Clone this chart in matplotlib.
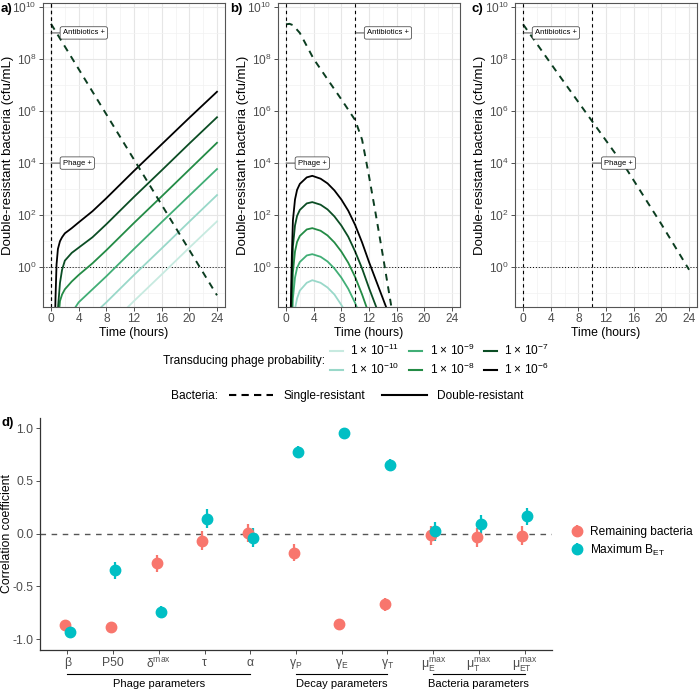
import numpy as np
import matplotlib
matplotlib.use('Agg')
import matplotlib.pyplot as plt
import matplotlib.transforms as mtransforms
from matplotlib.lines import Line2D
from matplotlib.ticker import NullFormatter

plt.rcParams['font.family'] = ['Liberation Sans', 'DejaVu Sans']
plt.rcParams['mathtext.fontset'] = 'custom'
plt.rcParams['mathtext.rm'] = 'Liberation Sans'
plt.rcParams['mathtext.it'] = 'Liberation Sans:italic'
plt.rcParams['mathtext.bf'] = 'Liberation Sans:bold'
plt.rcParams['axes.unicode_minus'] = False

# ---- data (log10 cfu/mL) ----
prob_labels = ['1 × 10$^{-11}$', '1 × 10$^{-10}$', '1 × 10$^{-9}$',
               '1 × 10$^{-8}$', '1 × 10$^{-7}$', '1 × 10$^{-6}$']
prob_colors = ['#c7eae0', '#99d8c9', '#41ae76', '#238b45', '#0b4d24', '#000000']

# panel a: phage + antibiotics at t=0
hours_a = [0.5, 0.65, 0.8, 1.0, 1.3, 1.6, 2, 3, 4, 6, 8, 12, 16, 20, 24]
a_p11 = [-9, -8, -7, -6, -5.5, -5.2, -4.6, -3.9, -3.4, -2.85, -2.35, -1.3, -0.28, 0.75, 1.76]
a_p10 = [-8, -7, -6, -5, -4.5, -4.2, -3.6, -2.9, -2.4, -1.85, -1.35, -0.3, 0.72, 1.75, 2.77]
a_p9 = [-7, -6, -5, -4, -3.2, -2.9, -2.55, -1.75, -1.35, -0.85, -0.35, 0.7, 1.73, 2.75, 3.77]
a_p8 = [-6, -5, -4, -2.2, -1.3, -1.05, -0.85, -0.55, -0.3, 0.15, 0.65, 1.7, 2.72, 3.75, 4.78]
a_p7 = [-5, -4, -3, -1.6, -0.6, -0.1, 0.25, 0.55, 0.75, 1.15, 1.65, 2.7, 3.72, 4.75, 5.76]
a_p6 = [-3, -1.2, 0.1, 0.7, 1.0, 1.15, 1.3, 1.5, 1.72, 2.15, 2.65, 3.7, 4.72, 5.74, 6.74]
hours_a_single = [0, 24]
a_single = [9.35, -1.08]

# panel b: phage at t=0, antibiotics at t=10
hours_b = [0.5, 0.7, 0.85, 1.0, 1.3, 1.6, 2, 3, 3.8, 5, 6, 7, 8, 9, 10, 11, 12, 13, 14, 15]
b_p11 = [-8, -6.5, -4.5, -3.2, -2.6, -2.2, -1.9, -1.6, -1.55, -1.6, -1.8, -2.05, -2.45, -2.9, -3.4, -4.05, -4.8, -5.5, -6.2, -6.9]
b_p10 = [-7, -5.5, -3.5, -2.2, -1.6, -1.2, -0.9, -0.6, -0.5, -0.6, -0.78, -1.05, -1.45, -1.9, -2.4, -3.05, -3.8, -4.5, -5.2, -5.9]
b_p9 = [-6, -4.5, -2.5, -1.2, -0.4, -0.03, 0.2, 0.45, 0.5, 0.4, 0.22, -0.05, -0.4, -0.83, -1.38, -2.05, -2.8, -3.5, -4.2, -4.9]
b_p8 = [-5, -3.5, -1.5, -0.2, 0.6, 0.97, 1.2, 1.45, 1.5, 1.4, 1.22, 0.95, 0.6, 0.17, -0.38, -1.05, -1.8, -2.5, -3.2, -3.9]
b_p7 = [-4, -2.5, -0.5, 0.8, 1.6, 1.97, 2.2, 2.45, 2.5, 2.4, 2.22, 1.95, 1.6, 1.17, 0.6, -0.05, -0.8, -1.5, -2.2, -2.9]
b_p6 = [-3, -1.5, 0.5, 1.8, 2.6, 2.97, 3.2, 3.45, 3.51, 3.4, 3.22, 2.95, 2.6, 2.17, 1.62, 0.95, 0.2, -0.5, -1.2, -1.9]
hours_b_single = [0, 0.5, 1, 2, 3, 4, 6, 8, 10, 11, 12, 13, 14, 15, 15.6]
b_single = [9.33, 9.35, 9.3, 9.0, 8.5, 8.0, 7.22, 6.45, 5.65, 4.9, 3.5, 2.0, 0.45, -1.15, -2.1]

# panel c: antibiotics at t=0, phage at t=10
hours_c_single = [0, 5, 10, 15, 20, 24]
c_single = [9.33, 7.45, 5.6, 3.75, 1.65, -0.1]

# panel d: correlation coefficients
param_labels = ['β', 'P50', r'$\mathrm{δ}^{\mathrm{max}}$', 'τ', 'α',
                r'$\mathrm{γ}_{\mathrm{P}}$', r'$\mathrm{γ}_{\mathrm{E}}$', r'$\mathrm{γ}_{\mathrm{T}}$',
                r'$\mathrm{μ}^{\mathrm{max}}_{\mathrm{E}}$', r'$\mathrm{μ}^{\mathrm{max}}_{\mathrm{T}}$',
                r'$\mathrm{μ}^{\mathrm{max}}_{\mathrm{ET}}$']
remaining = [-0.87, -0.885, -0.28, -0.07, 0.005, -0.18, -0.855, -0.67, -0.015, -0.035, -0.02]
remaining_err = [0.02, 0.02, 0.08, 0.09, 0.09, 0.08, 0.02, 0.06, 0.09, 0.09, 0.09]
max_bet = [-0.93, -0.35, -0.74, 0.14, -0.04, 0.775, 0.95, 0.65, 0.02, 0.09, 0.165]
max_bet_err = [0.02, 0.08, 0.05, 0.09, 0.09, 0.05, 0.02, 0.06, 0.09, 0.09, 0.08]
group_names = ['Phage parameters', 'Decay parameters', 'Bacteria parameters']
group_first = [1, 6, 9]
group_last = [5, 8, 11]

W, H = 700, 689
fig = plt.figure(figsize=(W / 100, H / 100), dpi=100)


def px(l, t, r, b):
    return [l / W, 1 - b / H, (r - l) / W, (b - t) / H]


def style_top(ax):
    ax.set_yscale('log')
    ax.set_xlim(-1.2, 25.2)
    ax.set_ylim(10 ** -1.53, 10 ** 10.15)
    ax.set_xticks(range(0, 25, 4))
    ax.set_xticks(range(2, 25, 4), minor=True)
    ax.set_yticks([10.0 ** e for e in range(0, 11, 2)])
    ax.set_yticklabels(['$10^{%d}$' % e for e in range(0, 11, 2)])
    ax.set_yticks([10.0 ** e for e in range(-1, 10, 2)], minor=True)
    ax.yaxis.set_minor_formatter(NullFormatter())
    ax.tick_params(which='minor', length=0)
    ax.tick_params(which='major', length=2.75, width=0.6, color='#333333',
                   labelsize=8.6, labelcolor='#4d4d4d', pad=1.5)
    ax.grid(which='major', color='#e6e6e6', lw=0.8)
    ax.grid(which='minor', color='#f2f2f2', lw=0.5)
    ax.set_axisbelow(True)
    for s in ax.spines.values():
        s.set_color('#555555')
        s.set_linewidth(0.8)
    ax.axhline(1, color='black', lw=0.7, ls=(0, (1, 2)))
    ax.set_xlabel('Time (hours)', fontsize=8.8, labelpad=1.5)
    ax.set_ylabel('Double-resistant bacteria (cfu/mL)', fontsize=9.5)
    ax.yaxis.set_label_coords(-0.155, 0.5)


def tag(ax, text, x, y):
    ax.axvline(x, color='black', lw=0.8, ls=(0, (3, 3)))
    ax.annotate(text, xy=(x, y), xytext=(8.5, 0), textcoords='offset points',
                ha='left', va='center', fontsize=5.5,
                bbox=dict(boxstyle='round,pad=0.35,rounding_size=0.25', fc='white', ec='#333333', lw=0.5),
                arrowprops=dict(arrowstyle='-', color='#333333', lw=0.6, shrinkA=0, shrinkB=0))


def draw_solid(ax, hours, series):
    for vals, col in zip(series, prob_colors):
        ax.plot(hours, 10.0 ** np.array(vals), color=col, lw=1.3)


def draw_single(ax, hours, vals):
    ax.plot(hours, 10.0 ** np.array(vals), color='#0b3d20', lw=1.4, ls=(0, (3.5, 3)))


ax_a = fig.add_axes(px(42.7, 3, 225.3, 307))
ax_b = fig.add_axes(px(277.7, 3, 460.3, 307))
ax_c = fig.add_axes(px(514.8, 3, 697.4, 307))
for ax in (ax_a, ax_b, ax_c):
    style_top(ax)

draw_solid(ax_a, hours_a, [a_p11, a_p10, a_p9, a_p8, a_p7, a_p6])
draw_single(ax_a, hours_a_single, a_single)
tag(ax_a, 'Antibiotics +', 0, 1e9)
tag(ax_a, 'Phage +', 0, 1e4)

draw_solid(ax_b, hours_b, [b_p11, b_p10, b_p9, b_p8, b_p7, b_p6])
draw_single(ax_b, hours_b_single, b_single)
tag(ax_b, 'Antibiotics +', 10, 1e9)
tag(ax_b, 'Phage +', 0, 1e4)

draw_single(ax_c, hours_c_single, c_single)
tag(ax_c, 'Antibiotics +', 0, 1e9)
tag(ax_c, 'Phage +', 10, 1e4)

for lab, x in (('a)', 1), ('b)', 230), ('c)', 471)):
    fig.text(x / W, 1 - 9 / H, lab, fontsize=9.5, fontweight='bold', va='center')

# legends for top panels
fig.text(325 / W, 1 - 361 / H, 'Transducing phage probability:', ha='right', va='center', fontsize=8.6)
prob_handles = [Line2D([], [], color=c, lw=1.5) for c in prob_colors]
fig.legend(prob_handles, prob_labels, ncol=3, loc='center left',
           bbox_to_anchor=(330 / W, 1 - 360 / H), frameon=False, fontsize=8.6,
           handlelength=1.1, handletextpad=0.6, columnspacing=0.8,
           borderpad=0, borderaxespad=0, labelspacing=0.3)

fig.text(218 / W, 1 - 396 / H, 'Bacteria:', ha='right', va='center', fontsize=8.6)
bact_handles = [Line2D([], [], color='black', lw=1.5, ls=(0, (3.5, 2.5))),
                Line2D([], [], color='black', lw=1.5)]
fig.legend(bact_handles, ['Single-resistant', 'Double-resistant'], ncol=2, loc='center left',
           bbox_to_anchor=(229 / W, 1 - 396 / H), frameon=False, fontsize=8.6,
           handlelength=3.7, handletextpad=0.9, columnspacing=1.4,
           borderpad=0, borderaxespad=0)

# panel d
ax_d = fig.add_axes(px(40, 418, 552, 650))
pos = np.arange(1, len(param_labels) + 1)
ax_d.axhline(0, color='#555555', lw=1.0, ls=(0, (4, 4)))
eb_r = ax_d.errorbar(pos - 0.05, remaining, yerr=remaining_err, fmt='o', color='#F8766D',
                     ms=7.5, elinewidth=1.6, capsize=0)
eb_c = ax_d.errorbar(pos + 0.05, max_bet, yerr=max_bet_err, fmt='o', color='#00BFC4',
                     ms=7.5, elinewidth=1.6, capsize=0)
ax_d.set_xlim(0.4, 11.6)
ax_d.set_ylim(-1.104, 1.095)
ax_d.set_xticks(pos)
ax_d.set_xticklabels(param_labels)
ax_d.set_yticks([-1, -0.5, 0, 0.5, 1])
ax_d.set_yticklabels(['-1.0', '-0.5', '0.0', '0.5', '1.0'])
ax_d.tick_params(length=2.75, width=0.6, color='#333333', labelsize=8.8, labelcolor='#4d4d4d', pad=2)
for s in ('top', 'right'):
    ax_d.spines[s].set_visible(False)
for s in ('left', 'bottom'):
    ax_d.spines[s].set_color('#333333')
    ax_d.spines[s].set_linewidth(0.9)
ax_d.set_ylabel('Correlation coefficient', fontsize=8.8)
ax_d.yaxis.set_label_coords(-0.052, 0.5)
ax_d.legend([eb_r, eb_c], ['Remaining bacteria', 'Maximum B$_{\\mathrm{ET}}$'],
            loc='center left', bbox_to_anchor=(570 / W, 1 - 542 / H), bbox_transform=fig.transFigure,
            frameon=False, fontsize=8.6, handlelength=1.2, handletextpad=0.5,
            borderpad=0, borderaxespad=0, labelspacing=0.35)

trans = mtransforms.blended_transform_factory(ax_d.transData, fig.transFigure)
for name, g0, g1 in zip(group_names, group_first, group_last):
    ax_d.plot([g0, g1], [1 - 674 / H] * 2, transform=trans, color='black', lw=0.8, clip_on=False)
    ax_d.text((g0 + g1) / 2, 1 - 684 / H, name, transform=trans, ha='center', va='center', fontsize=8)

fig.text(2 / W, 1 - 423 / H, 'd)', fontsize=9.5, fontweight='bold', va='center')

fig.savefig('out.png', dpi=100)
